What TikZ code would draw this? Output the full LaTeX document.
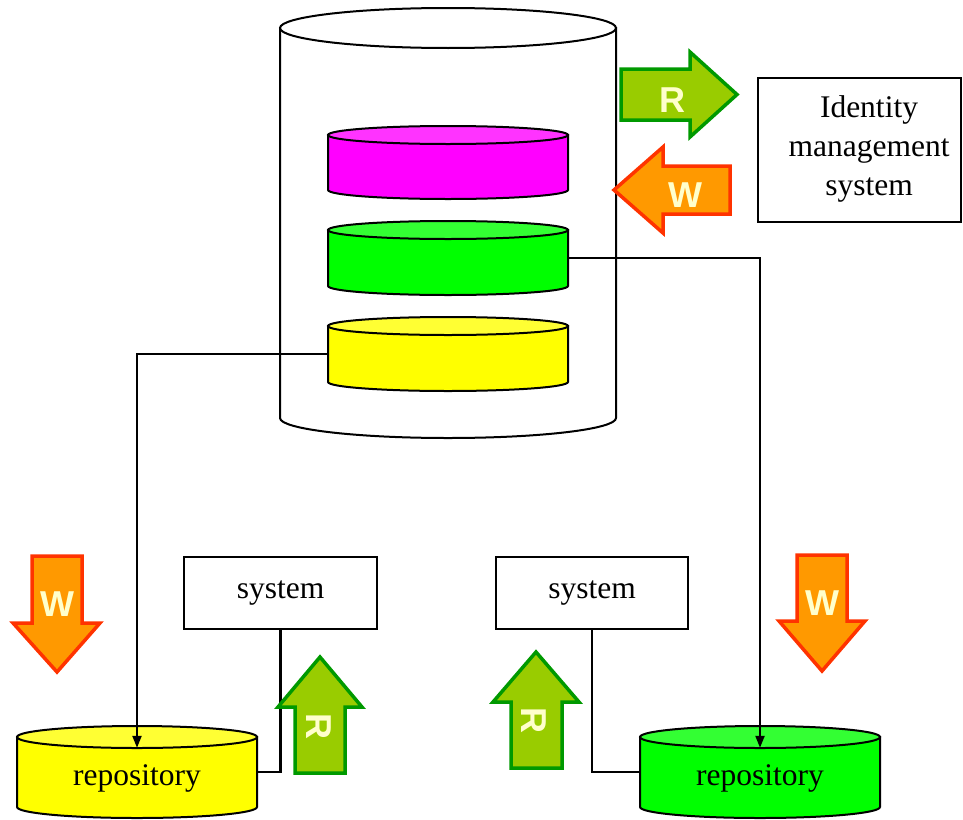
\documentclass[tikz,border=0pt]{standalone}
\usepackage{fontspec}
\setmainfont{Liberation Serif}
\setsansfont{Liberation Sans}
\usetikzlibrary{arrows.meta}

\definecolor{rfill}{HTML}{99CC00}
\definecolor{rline}{HTML}{009900}
\definecolor{wfill}{HTML}{FF9900}
\definecolor{wline}{HTML}{FF3300}
\definecolor{letter}{HTML}{FFFFCC}
\definecolor{magbody}{HTML}{FF00FF}
\definecolor{magtop}{HTML}{FF33FF}
\definecolor{grnbody}{HTML}{00FF00}
\definecolor{grntop}{HTML}{33FF33}
\definecolor{yelbody}{HTML}{FFFF00}
\definecolor{yeltop}{HTML}{FFFF33}

% drum: centre x, top y, bottom y, x radius, y radius, body colour, top colour
\newcommand\drumshape[7]{%
  \filldraw[fill=#6, line width=2pt]
    (#1-#4,#2) -- (#1-#4,#3)
    arc[start angle=180, end angle=0, x radius=#4, y radius=#5]
    -- (#1+#4,#2) -- cycle;
  \filldraw[fill=#7, line width=2pt] (#1,#2) ellipse[x radius=#4, y radius=#5];
}

\tikzset{
  txt/.style={font=\fontsize{31.5}{39}\selectfont},
  box/.style={txt, draw, line width=2pt, inner sep=0pt},
  slot/.style={inner sep=0pt, minimum width=240pt},
  conn/.style={line width=2.2pt},
  tip/.style={-{Triangle[length=12pt, width=9pt]}},
  readarrow/.style={fill=rfill, draw=rline, line width=3.5pt, line join=miter},
  writearrow/.style={fill=wfill, draw=wline, line width=3.5pt, line join=miter},
  letterlbl/.style={text=letter, font=\sffamily\bfseries\fontsize{36}{36}\selectfont, inner sep=0pt},
}

\begin{document}
\begin{tikzpicture}[x=1pt, y=-1pt]
  \useasboundingbox (0,0) rectangle (963,819);

  % central store with its three partitions
  \drumshape{448}{28}{418}{168}{20}{white}{white}
  \drumshape{448}{135}{190}{120}{9}{magbody}{magtop}
  \drumshape{448}{230}{286}{120}{9}{grnbody}{grntop}
  \drumshape{448}{326}{382}{120}{9}{yelbody}{yeltop}
  \node[slot, minimum height=55pt] (mdisk) at (448,163) {};
  \node[slot, minimum height=56pt] (gdisk) at (448,258) {};
  \node[slot, minimum height=56pt] (ydisk) at (448,354) {};

  % local repositories
  \drumshape{137}{737}{807}{120}{11}{yelbody}{yeltop}
  \drumshape{760}{737}{807}{120}{11}{grnbody}{grntop}
  \node[txt, slot, minimum height=60pt] (yrepo) at (137,778) {repository};
  \node[txt, slot, minimum height=60pt] (grepo) at (760,778) {repository};

  % systems
  \node[box, minimum width=193pt, minimum height=72pt] (lsys) at (280.5,593) {system};
  \node[box, minimum width=192pt, minimum height=72pt] (rsys) at (592,593) {system};
  \node[box, minimum width=203pt, minimum height=144pt] (ims) at (859.5,150) {};
  \node[txt, align=center, inner sep=0pt] (imstext) at (869,149)
    {Identity\\management\\system};

  % connectors
  \draw[conn, tip] (ydisk.west) -| (yrepo.north);
  \draw[conn, tip] (gdisk.east) -| (grepo.north);
  \draw[conn] (lsys.south) |- (yrepo.east |- 0,772);
  \draw[conn] (rsys.south) |- (grepo.west |- 0,772);

  % read / write block arrows
  \draw[readarrow] (621,69) -- (690,69) -- (690,52) -- (737,94.5) -- (690,137)
    -- (690,120) -- (621,120) -- cycle;
  \node[letterlbl] (rtop) at (672,100) {R};

  \draw[writearrow] (614,190) -- (663,147) -- (663,166) -- (730,166) -- (730,214)
    -- (663,214) -- (663,233) -- cycle;
  \node[letterlbl] (wtop) at (685,195) {W};

  \draw[writearrow] (32,556) -- (82,556) -- (82,623) -- (100,623) -- (57,672)
    -- (13,623) -- (32,623) -- cycle;
  \node[letterlbl] (wleft) at (57,604) {W};

  \draw[writearrow] (797,555) -- (847,555) -- (847,621) -- (865,621) -- (822,671)
    -- (779,621) -- (797,621) -- cycle;
  \node[letterlbl] (wright) at (822,603) {W};

  \draw[readarrow] (320,657) -- (362,707) -- (345,707) -- (345,773) -- (295,773)
    -- (295,707) -- (278,707) -- cycle;
  \node[letterlbl, rotate=-90] (rleft) at (319,726) {R};

  \draw[readarrow] (536,652) -- (579,702) -- (562,702) -- (562,768) -- (511,768)
    -- (511,702) -- (493,702) -- cycle;
  \node[letterlbl, rotate=-90] (rright) at (534,720) {R};
\end{tikzpicture}
\end{document}
